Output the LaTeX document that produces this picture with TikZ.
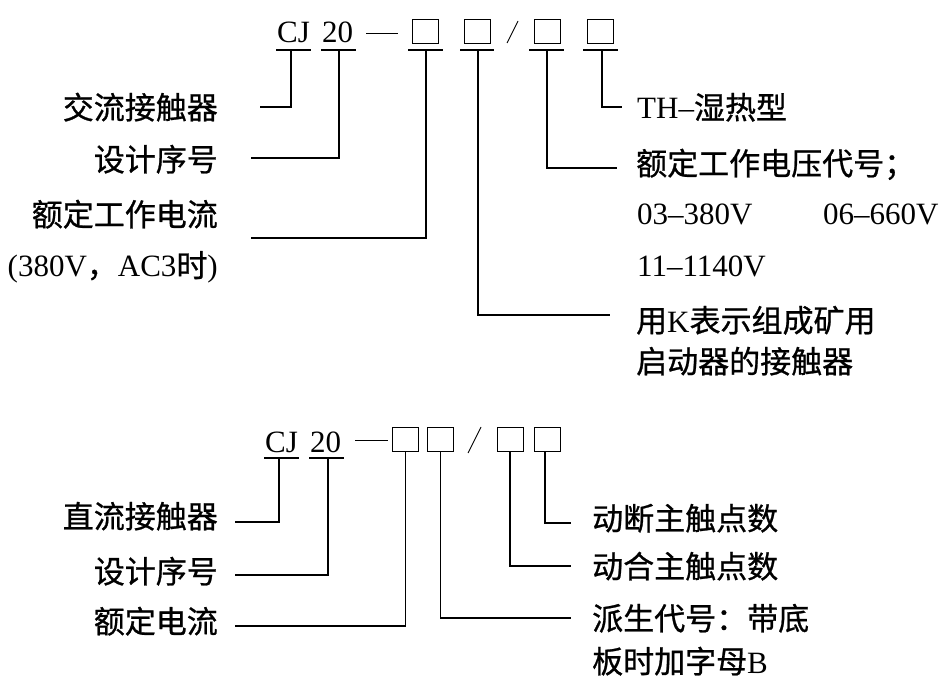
\documentclass[tikz,border=0pt]{standalone}
\usepackage{fontspec}
\setmainfont{Liberation Serif}
\newfontfamily\cjk[FakeBold=0.8]{Noto Sans CJK SC}
\begin{document}
\begin{tikzpicture}[x=1pt,y=-1pt,
  txt/.style={inner sep=0pt, font=\fontsize{31}{36}\selectfont},
  lt/.style={txt, anchor=base east},
  rt/.style={txt, anchor=base west},
  box/.style={draw, line width=1pt, minimum width=26pt, minimum height=24pt, inner sep=0pt},
  ul/.style={line width=1.1pt},
  conn/.style={line width=1.4pt},
  thin/.style={line width=0.9pt}]
\useasboundingbox (0,0) rectangle (943,679);

% ===== top code =====
\node[rt] (cjA) at (277,43) {CJ};
\node[rt] (twA) at (322,43) {20};
\draw[thin] (366,33) -- (398,33);
\node[box] (a1) at (425.5,31.5) {};
\node[box] (a2) at (477.5,31.5) {};
\draw[thin] (507,43) -- (518,21);
\node[box] (a3) at (547.5,31.5) {};
\node[box] (a4) at (600.5,31.5) {};
\draw[ul] (276,50) -- (311,50);
\draw[ul] (321,50) -- (356,50);
\draw[ul] (408,50) -- (443,50);
\draw[ul] (460,50) -- (494,50);
\draw[ul] (529,50) -- (564,50);
\draw[ul] (583,50) -- (618,50);
\coordinate (ucjA) at (291,50);
\coordinate (utwA) at (339,50);
\coordinate (ua1) at (426,50);
\coordinate (ua2) at (478,50);
\coordinate (ua3) at (547,50);
\coordinate (ua4) at (602,50);

% top labels
\node[lt] (tl1) at (218,119) {\cjk 交流接触器};
\node[lt] (tl2) at (218,171) {\cjk 设计序号};
\node[lt] (tl3) at (218,226) {\cjk 额定工作电流};
\node[lt] (tl4) at (218,277) {(380V{\cjk ，}AC3{\cjk 时})};
\node[rt] (tr1) at (637,119) {TH–{\cjk 湿热型}};
\node[rt] (tr2) at (636,175) {\cjk 额定工作电压代号；};
\node[rt] (tr3) at (637,225) {03–380V};
\node[rt] (tr3b) at (823,225) {06–660V};
\node[rt] (tr4) at (637,277) {11–1140V};
\node[rt] (tr5) at (636,332) {{\cjk 用}K{\cjk 表示组成矿用}};
\node[rt] (tr6) at (636,373) {\cjk 启动器的接触器};

\coordinate (etl1) at (260,107);
\coordinate (etl2) at (251,158);
\coordinate (etl3) at (251,238);
\coordinate (etr1) at (622,107);
\coordinate (etr2) at (617,168);
\coordinate (etr5) at (610,315);
\draw[conn] (ucjA) |- (etl1);
\draw[conn] (utwA) |- (etl2);
\draw[conn] (ua1) |- (etl3);
\draw[conn] (ua2) |- (etr5);
\draw[conn] (ua3) |- (etr2);
\draw[conn] (ua4) |- (etr1);

% ===== bottom code =====
\node[rt] (cjB) at (265,452) {CJ};
\node[rt] (twB) at (310,452) {20};
\draw[thin] (355,440) -- (388,440);
\node[box] (b1) at (405.5,439) {};
\node[box] (b2) at (440.5,439) {};
\draw[thin] (468,453) -- (481,427);
\node[box] (b3) at (510,439) {};
\node[box] (b4) at (547,439) {};
\draw[ul] (264,458) -- (299,458);
\draw[ul] (309,458) -- (344,458);
\coordinate (ucjB) at (279,458);
\coordinate (utwB) at (328,458);

\node[lt] (bl1) at (218,528) {\cjk 直流接触器};
\node[lt] (bl2) at (218,583) {\cjk 设计序号};
\node[lt] (bl3) at (218,633) {\cjk 额定电流};
\node[rt] (br1) at (592,530) {\cjk 动断主触点数};
\node[rt] (br2) at (592,578) {\cjk 动合主触点数};
\node[rt] (br3) at (592,630) {\cjk 派生代号：带底};
\node[rt] (br4) at (592,673) {{\cjk 板时加字母}B};

\coordinate (ebl1) at (235,522);
\coordinate (ebl2) at (235,575);
\coordinate (ebl3) at (235,626);
\coordinate (ebr1) at (571,523);
\coordinate (ebr2) at (571,566);
\coordinate (ebr3) at (571,618);
\draw[conn] (ucjB) |- (ebl1);
\draw[conn] (utwB) |- (ebl2);
\draw[conn] (b1.south) |- (ebl3);
\draw[conn] (b2.south) |- (ebr3);
\draw[conn] (b3.south) |- (ebr2);
\draw[conn] ([xshift=-2pt]b4.south) |- (ebr1);
\end{tikzpicture}
\end{document}
